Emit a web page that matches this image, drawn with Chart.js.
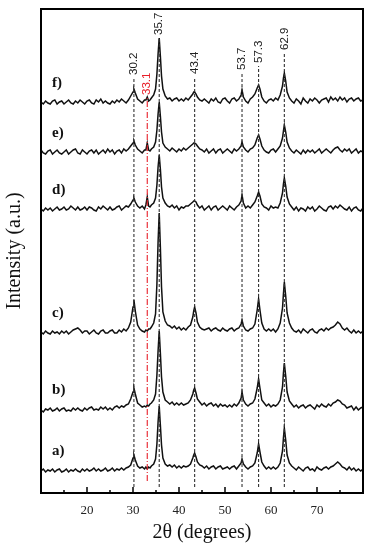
<!DOCTYPE html>
<html>
<head>
<meta charset="utf-8">
<script src="https://cdn.jsdelivr.net/npm/chart.js@4.4.0/dist/chart.umd.min.js"></script>
<style>
  html, body { margin: 0; padding: 0; background: #fff; }
</style>
</head>
<body>
<canvas id="xrd" width="370" height="550"></canvas>
<script>
// =======================================================
// Data
// =======================================================
const twoTheta = [
  10.0, 10.5, 11.0, 11.5, 12.0, 12.5, 13.0, 13.5, 14.0, 14.5,
  15.0, 15.5, 16.0, 16.5, 17.0, 17.5, 18.0, 18.5, 19.0, 19.5,
  20.0, 20.5, 21.0, 21.5, 22.0, 22.5, 23.0, 23.5, 24.0, 24.5,
  25.0, 25.5, 26.0, 26.5, 27.0, 27.5, 28.0, 28.5, 29.0, 29.5,
  30.0, 30.2, 30.5, 31.0, 31.5, 32.0, 32.5, 32.8, 33.1, 33.4,
  33.7, 34.0, 34.5, 34.9, 35.2, 35.45, 35.7, 35.95, 36.2, 36.5,
  37.0, 37.5, 38.0, 38.5, 39.0, 39.5, 40.0, 40.5, 41.0, 41.5,
  42.0, 42.5, 43.0, 43.2, 43.4, 43.7, 44.0, 44.5, 45.0, 45.5,
  46.0, 46.5, 47.0, 47.5, 48.0, 48.5, 49.0, 49.5, 50.0, 50.5,
  51.0, 51.5, 52.0, 52.5, 53.0, 53.5, 53.7, 54.0, 54.5, 55.0,
  55.5, 56.0, 56.5, 57.0, 57.3, 57.6, 58.0, 58.5, 59.0, 59.5,
  60.0, 60.5, 61.0, 61.5, 62.0, 62.5, 62.7, 62.9, 63.2, 63.5,
  64.0, 64.5, 65.0, 65.5, 66.0, 66.5, 67.0, 67.5, 68.0, 68.5,
  69.0, 69.5, 70.0, 70.5, 71.0, 71.5, 72.0, 72.5, 73.0, 73.5,
  74.0, 74.5, 75.0, 75.5, 76.0, 76.5, 77.0, 77.5, 78.0, 78.5,
  79.0, 79.5, 80.0,
]

// intensities above each pattern's own baseline (a.u.)
const intA = [
  -1, 1, -2, 0, -1, 1, -2, 0, 1, -2,
  -1, 1, -2, 0, -1, 1, -1, -2, 1, -1,
  1, -1, 0, 2, -1, 1, -1, 0, 2, -1,
  0, 2, -1, 1, 0, 2, 0, 2, 3, 5,
  12, 15, 10, 4, 2, 3, 1, 3, 1, 3,
  2, 4, 6, 11, 26, 48, 64, 45, 25, 12,
  6, 4, 5, 3, 5, 2, 4, 2, 4, 3,
  4, 6, 12, 15, 17, 13, 8, 5, 4, 2,
  4, 1, 3, 4, 1, 3, 4, 1, 2, 3,
  1, 3, 4, 1, 4, 7, 11, 6, 3, 1,
  3, 4, 7, 17, 26, 18, 8, 4, 1, 3,
  1, 3, 1, 3, 7, 19, 32, 42, 30, 15,
  7, 4, 2, 0, 3, 1, -1, 2, 3, 0,
  1, -1, 3, 1, 0, 2, 3, 1, 3, 4,
  6, 8, 6, 3, 2, 0, 3, 0, 2, -1,
  1, -1, 1,
]
const intB = [
  -1, -3, 0, -1, 1, -2, -1, 1, -2, 0,
  1, -2, -1, -2, 1, -1, 1, -1, -2, 1,
  -1, 1, 2, -1, 0, -1, 2, 0, 2, -1,
  1, -1, 2, 3, 1, 3, 2, 4, 5, 10,
  17, 21, 15, 6, 4, 2, 3, 2, 4, 3,
  5, 6, 9, 15, 34, 58, 78, 56, 32, 17,
  9, 7, 5, 7, 4, 6, 4, 6, 4, 5,
  6, 9, 15, 19, 21, 16, 10, 7, 4, 6,
  3, 5, 6, 3, 5, 2, 5, 3, 4, 2,
  4, 2, 5, 3, 6, 11, 17, 9, 5, 3,
  5, 6, 10, 21, 30, 21, 9, 6, 3, 5,
  2, 4, 3, 5, 9, 22, 36, 46, 33, 17,
  8, 5, 2, 4, 1, 3, 4, 1, 3, 4,
  2, 0, 4, 2, 5, 3, 2, 5, 3, 6,
  7, 9, 8, 5, 4, 1, 2, 3, -1, 2,
  -1, 1, 2,
]
const intC = [
  0, -2, 1, -1, -2, 1, -1, 0, -2, 1,
  -1, 1, -2, 0, 2, 3, 4, 2, -1, 1,
  1, -2, 0, 2, -1, -2, 1, 2, -1, -1,
  1, 2, -1, -1, 2, 0, 3, 1, 4, 10,
  25, 32, 21, 7, 3, 1, 0, 2, 1, 3,
  3, 5, 9, 18, 48, 90, 119, 85, 45, 20,
  11, 7, 6, 4, 6, 3, 5, 2, 4, 2,
  5, 7, 15, 21, 25, 19, 10, 5, 3, 2,
  3, 4, 1, 3, 4, 2, 1, 4, 2, 1,
  3, 4, 1, 3, 4, 8, 12, 6, 2, 1,
  3, 4, 8, 22, 33, 22, 9, 3, 1, 3,
  1, 3, 0, 3, 9, 24, 38, 50, 36, 19,
  9, 4, 1, 0, 2, -1, 3, 1, -1, 2,
  3, 0, -1, 2, 3, 1, 4, 2, 4, 5,
  7, 10, 8, 4, 2, 4, 1, -1, 2, -1,
  1, -1, 1,
]
const intD = [
  0, -2, 1, -1, 1, -2, 0, 2, -1, 0,
  2, -1, 0, 3, 1, -1, 2, -1, 0, 2,
  -1, 2, 1, -1, -2, 2, 0, 3, 1, -1,
  2, -1, 0, 2, 3, -1, 1, 3, 2, 5,
  9, 11, 7, 3, 1, 3, 0, 4, 12, 3,
  2, 4, 6, 11, 24, 42, 54, 40, 22, 11,
  6, 3, 2, 4, 1, 3, -1, 2, 1, 3,
  3, 5, 7, 8, 8, 7, 4, 1, 3, -1,
  1, 3, -1, 2, 3, -1, 1, 3, 1, -1,
  3, 1, -1, 2, 4, 8, 14, 6, 1, 3,
  1, 4, 7, 13, 17, 13, 5, 2, 1, -1,
  3, 1, 2, 1, 6, 16, 25, 31, 23, 12,
  5, 2, -1, 2, -2, 1, 0, -2, 2, 0,
  2, -2, 0, 3, 1, -1, -2, 2, 3, 0,
  3, 1, 4, 2, 0, -1, 2, -2, 1, 2,
  -1, -2, 1,
]
const intE = [
  2, -1, -2, 1, 2, -2, 0, 2, -1, -2,
  0, 2, -2, 0, 2, 3, -1, -2, 2, 0,
  -2, 1, 2, -1, 2, -2, 0, 2, -1, 3,
  0, 2, -2, 1, 2, -1, 3, 1, 3, 6,
  9, 11, 7, 3, 1, -1, 2, 2, 9, 2,
  1, 3, 5, 10, 22, 38, 50, 36, 20, 9,
  5, 3, 1, 4, 2, 0, 3, 1, 4, 2,
  4, 6, 8, 9, 9, 8, 6, 3, 2, 0,
  3, -1, 1, 3, -1, 2, 3, -1, 1, 3,
  1, -1, 3, 1, 3, 6, 10, 5, 2, 0,
  3, 4, 7, 14, 17, 13, 6, 2, 0, -1,
  2, 3, 0, 3, 6, 14, 21, 27, 20, 10,
  4, 1, -1, 2, 0, -2, 2, -1, 2, 0,
  2, -1, 1, 3, -1, 1, 3, 1, -1, 2,
  4, 5, 2, 0, 3, 1, 3, -1, 1, 3,
  -1, 1, 0,
]
const intF = [
  0, -2, 1, -1, -2, 1, 2, -2, 0, 1,
  -2, 0, 2, -1, -2, 1, -1, 2, 0, -2,
  1, 2, -1, -2, 2, 0, 3, -1, 1, -1,
  -2, 1, -1, 2, 0, 3, 1, -1, 2, 6,
  10, 13, 9, 3, 1, -1, 2, 2, 5, 1,
  2, 4, 7, 13, 28, 48, 64, 46, 26, 13,
  6, 3, 4, 1, 3, 4, 1, 3, 1, 4,
  2, 5, 8, 10, 10, 8, 5, 2, 1, 3,
  1, -1, 3, 1, 4, 0, -1, 3, 4, 1,
  -1, 3, 4, 1, 3, 7, 12, 5, 1, -1,
  3, 5, 8, 14, 17, 13, 5, 1, -1, 2,
  3, 1, 4, 2, 7, 16, 24, 29, 21, 10,
  4, 1, -1, 3, 1, -2, 4, 1, -1, 3,
  1, 4, 2, -1, 2, 3, 4, 0, 5, 2,
  4, 1, 5, 2, 4, 0, 3, 4, 1, 3,
  4, 1, 2,
]

const sampleNames = ['a)', 'b)', 'c)', 'd)', 'e)', 'f)']
const offsets = [23, 84, 161, 284, 341, 391]

// reflections marked with dashed lines, and the extra phase (red)
const peakPos = [30.2, 35.7, 43.4, 53.7, 57.3, 62.9]
const refLineTop = [415, 455, 416, 420, 427, 440]
const refLineBottom = 6
const impurityPeak = 33.1
const impurityTop = 395
const impurityBottom = 12

const xTicks = [20, 30, 40, 50, 60, 70]

// =======================================================
// Datasets
// =======================================================
const traces = [intA, intB, intC, intD, intE, intF]

const traceSets = traces.map((vals, i) => ({
  label: sampleNames[i],
  data: twoTheta.map((x, j) => ({ x, y: vals[j] + offsets[i] })),
  borderColor: '#111',
  borderWidth: 1.5,
  pointRadius: 0,
  tension: 0,
  fill: false,
}))

const refSets = peakPos.map((p, i) => ({
  label: p.toFixed(1),
  data: [{ x: p, y: refLineBottom }, { x: p, y: refLineTop[i] }],
  borderColor: '#333',
  borderWidth: 1.1,
  borderDash: [3, 2],
  pointRadius: 0,
}))

const impuritySet = {
  label: impurityPeak.toFixed(1),
  data: [{ x: impurityPeak, y: impurityBottom }, { x: impurityPeak, y: impurityTop }],
  borderColor: '#e8202a',
  borderWidth: 1.1,
  borderDash: [6, 2, 1, 2],
  pointRadius: 0,
}

// =======================================================
// Frame, inward ticks, peak + sample labels
// =======================================================
const annotate = {
  id: 'annotate',
  afterDatasetsDraw(chart) {
    const { ctx, chartArea: a, scales: { x, y } } = chart
    ctx.save()

    ctx.strokeStyle = '#000'
    ctx.lineWidth = 2
    ctx.strokeRect(a.left, a.top, a.right - a.left, a.bottom - a.top)

    ctx.lineWidth = 1.5
    for (let v = 15; v < 80; v += 5) {
      const px = x.getPixelForValue(v)
      const len = v % 10 === 0 ? 6 : 3
      ctx.beginPath()
      ctx.moveTo(px, a.bottom)
      ctx.lineTo(px, a.bottom - len)
      ctx.stroke()
    }

    // rotated peak positions
    ctx.font = '11.5px "Liberation Sans", Arial, sans-serif'
    ctx.textAlign = 'left'
    ctx.textBaseline = 'middle'
    const rotLabel = (pos, top, color) => {
      ctx.save()
      ctx.translate(x.getPixelForValue(pos), y.getPixelForValue(top) - 3)
      ctx.rotate(-Math.PI / 2)
      ctx.fillStyle = color
      ctx.fillText(pos.toFixed(1), 0, 0)
      ctx.restore()
    }
    peakPos.forEach((p, i) => rotLabel(p, refLineTop[i], '#222'))
    rotLabel(impurityPeak, impurityTop, '#e8202a')

    // sample letters
    ctx.font = 'bold 15px "Liberation Serif", "Times New Roman", serif'
    ctx.fillStyle = '#111'
    sampleNames.forEach((name, i) => {
      ctx.fillText(name, x.getPixelForValue(12.4), y.getPixelForValue(offsets[i] + 19))
    })

    ctx.restore()
  },
}

// =======================================================
// Chart
// =======================================================
const serif = '"Liberation Serif", "Times New Roman", serif'

new Chart(document.getElementById('xrd').getContext('2d'), {
  type: 'line',
  data: { datasets: [...refSets, impuritySet, ...traceSets] },
  options: {
    responsive: false,
    animation: false,
    layout: { padding: { top: 9, right: 7 } },
    plugins: { legend: { display: false }, tooltip: { enabled: false } },
    scales: {
      x: {
        type: 'linear',
        min: 10,
        max: 80,
        afterBuildTicks: (axis) => {
          axis.ticks = xTicks.map((v) => ({ value: v }))
        },
        afterFit: (axis) => {
          axis.height = 57
        },
        grid: { display: false, drawTicks: false },
        border: { display: false },
        ticks: {
          color: '#222',
          padding: 10,
          maxRotation: 0,
          autoSkip: false,
          font: { family: serif, size: 13 },
        },
        title: {
          display: true,
          text: '2θ (degrees)',
          color: '#111',
          font: { family: serif, size: 20 },
          padding: { top: 0, bottom: 5 },
        },
      },
      y: {
        min: 0,
        max: 484,
        afterFit: (axis) => {
          axis.width = 41
        },
        grid: { display: false, drawTicks: false },
        border: { display: false },
        ticks: { display: false },
        title: {
          display: true,
          text: 'Intensity (a.u.)',
          color: '#111',
          font: { family: serif, size: 20 },
          padding: { top: 3, bottom: 0 },
        },
      },
    },
  },
  plugins: [annotate],
})
</script>
</body>
</html>
